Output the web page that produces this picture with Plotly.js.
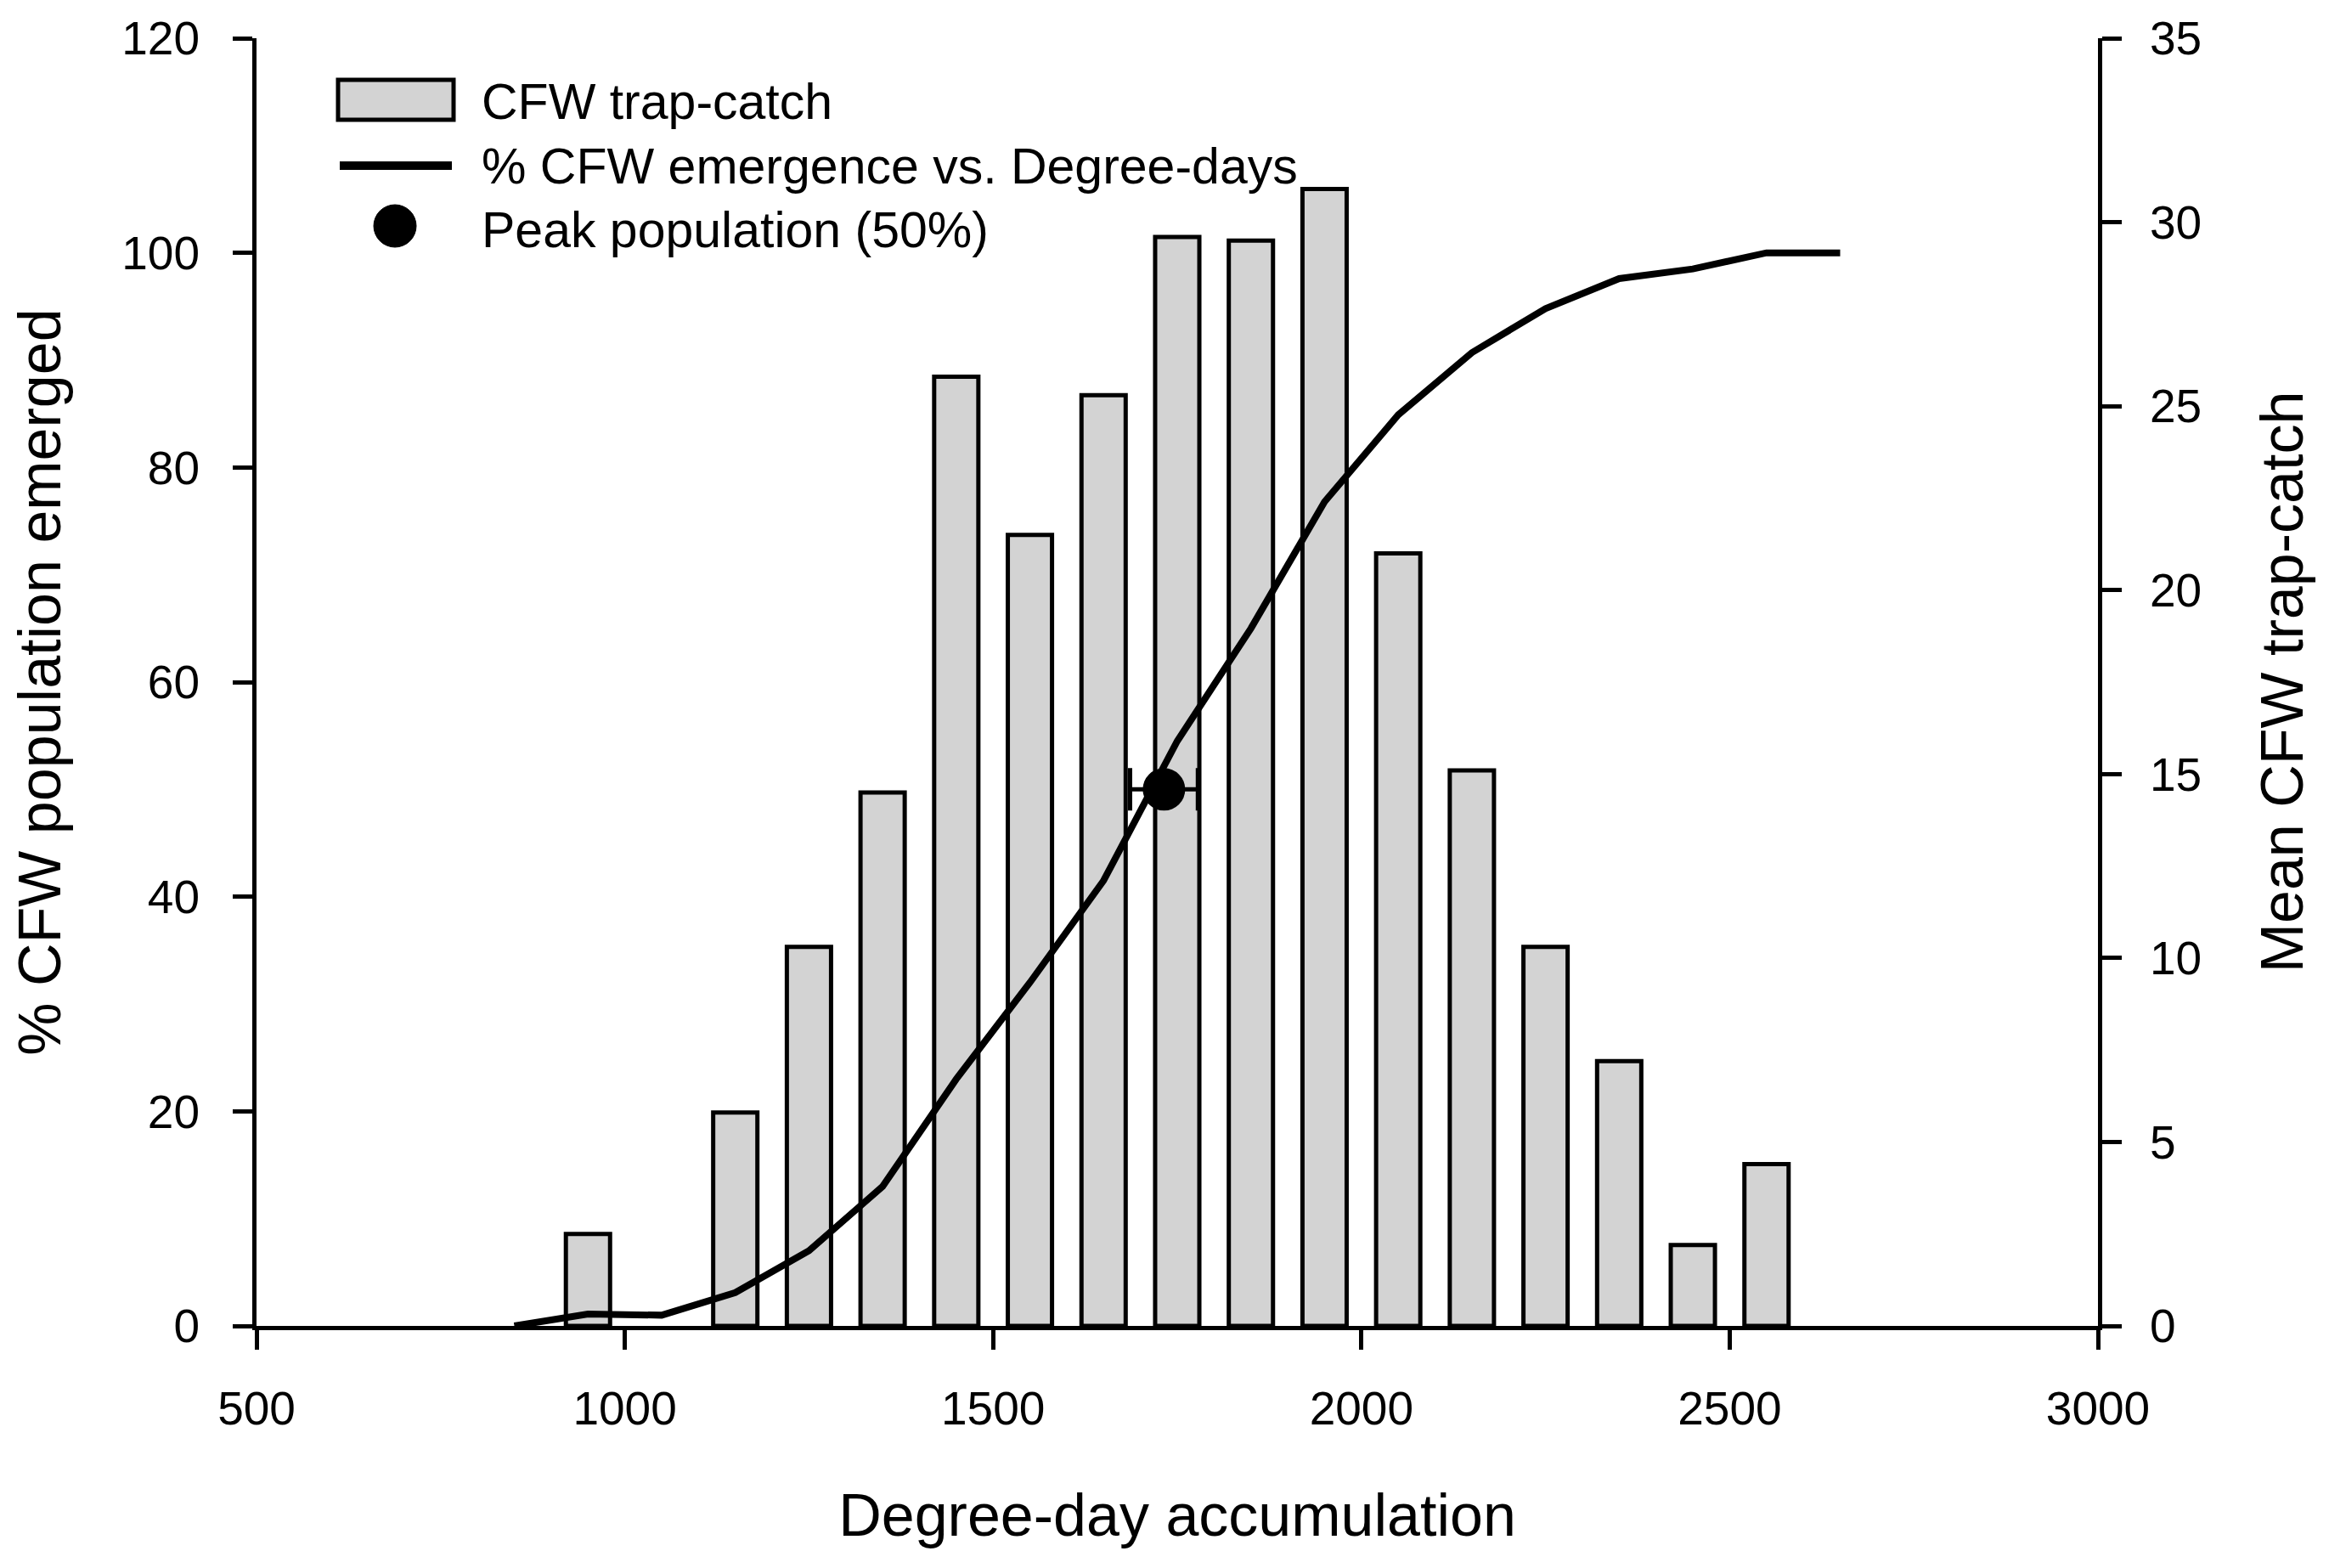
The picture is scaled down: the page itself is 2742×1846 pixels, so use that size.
<!DOCTYPE html>
<html>
<head>
<meta charset="utf-8">
<script src="https://cdn.plot.ly/plotly-3.0.1.min.js"></script>
<style>
  html, body { margin: 0; padding: 0; background: #ffffff; }
  #chart { width: 2742px; height: 1846px; }
</style>
</head>
<body>
<div id="chart"></div>
<script>
// ---- data ----
var barDegreeDays = [950, 1150, 1250, 1350, 1450, 1550, 1650, 1750, 1850, 1950, 2050, 2150, 2250, 2350, 2450, 2550];
var meanTrapCatch = [2.5, 5.8, 10.3, 14.5, 25.8, 21.5, 25.3, 29.6, 29.5, 30.9, 21.0, 15.1, 10.3, 7.2, 2.2, 4.4];

var lineDegreeDays = [850, 950, 1050, 1150, 1250, 1350, 1450, 1550, 1650, 1750, 1850, 1950, 2050, 2150, 2250, 2350, 2450, 2550, 2650];
var pctEmerged = [0, 1.1, 1.0, 3.1, 7.0, 13.0, 23.0, 32.0, 41.5, 54.5, 65.0, 76.8, 84.9, 90.7, 94.8, 97.6, 98.5, 100, 100];

var peakDegreeDays = [1732];
var peakPct = [50];
var peakError = [46];

var xTicks = [500, 1000, 1500, 2000, 2500, 3000];
var leftTicks = [0, 20, 40, 60, 80, 100, 120];
var rightTicks = [0, 5, 10, 15, 20, 25, 30, 35];

var legendLabels = ['CFW trap-catch', '% CFW emergence vs. Degree-days', 'Peak population (50%)'];

// ---- layout geometry (pixels) ----
var W = 2742, H = 1846;
var L = 302, R = 2470, T = 45, B = 1561;
function px(x) { return (x - L) / (R - L); }
function py(y) { return (B - y) / (B - T); }

var FONT = 'Liberation Sans, Arial, Helvetica, sans-serif';

var traces = [
  {
    type: 'bar',
    name: legendLabels[0],
    x: barDegreeDays,
    y: meanTrapCatch,
    width: 60,
    xaxis: 'x',
    yaxis: 'y',
    marker: { color: '#d3d3d3', line: { color: '#000000', width: 5 } },
    hoverinfo: 'x+y'
  },
  {
    type: 'scatter',
    mode: 'lines',
    name: legendLabels[1],
    x: lineDegreeDays,
    y: pctEmerged,
    xaxis: 'x',
    yaxis: 'y2',
    line: { color: '#000000', width: 8 }
  },
  {
    type: 'scatter',
    mode: 'markers',
    name: legendLabels[2],
    x: peakDegreeDays,
    y: peakPct,
    xaxis: 'x',
    yaxis: 'y2',
    marker: { color: '#000000', size: 50 },
    error_x: { type: 'data', array: peakError, visible: true, color: '#000000', thickness: 5, width: 25 }
  }
];

var axisCommon = {
  showgrid: false,
  zeroline: false,
  showline: true,
  linecolor: '#000000',
  linewidth: 5,
  ticks: 'outside',
  tickcolor: '#000000',
  tickwidth: 5,
  ticklen: 23,
  tickfont: { family: FONT, size: 55, color: '#000000' }
};

var layout = {
  width: W,
  height: H,
  paper_bgcolor: '#ffffff',
  plot_bgcolor: '#ffffff',
  showlegend: false,
  bargap: 0,
  margin: { l: L, r: W - R, t: T, b: H - B, pad: 0 },
  font: { family: FONT, color: '#000000' },
  xaxis: Object.assign({}, axisCommon, {
    range: [500, 3000],
    tickvals: xTicks,
    ticktext: xTicks.map(String),
    ticklabelstandoff: 22,
    title: { text: 'Degree-day accumulation', font: { family: FONT, size: 70, color: '#000000' }, standoff: 72 }
  }),
  yaxis: Object.assign({}, axisCommon, {
    range: [0, 35],
    side: 'right',
    tickvals: rightTicks,
    ticktext: rightTicks.map(String),
    ticklabelstandoff: 22,
    title: { text: 'Mean CFW trap-catch', font: { family: FONT, size: 70, color: '#000000' }, standoff: 72 }
  }),
  yaxis2: Object.assign({}, axisCommon, {
    range: [0, 120],
    side: 'left',
    overlaying: 'y',
    anchor: 'x',
    tickvals: leftTicks,
    ticktext: leftTicks.map(String),
    ticklabelstandoff: 28,
    title: { text: '% CFW population emerged', font: { family: FONT, size: 70, color: '#000000' }, standoff: 50 }
  }),
  shapes: [
    { type: 'rect', xref: 'paper', yref: 'paper', x0: px(398), x1: px(534), y0: py(141), y1: py(94),
      fillcolor: '#d3d3d3', line: { color: '#000000', width: 5 } },
    { type: 'line', xref: 'paper', yref: 'paper', x0: px(400), x1: px(532), y0: py(195), y1: py(195),
      line: { color: '#000000', width: 10 } },
    { type: 'circle', xref: 'paper', yref: 'paper', x0: px(440), x1: px(490), y0: py(291), y1: py(241),
      fillcolor: '#000000', line: { color: '#000000', width: 1 } }
  ],
  annotations: [
    { xref: 'paper', yref: 'paper', x: px(565), y: py(120), xanchor: 'left', yanchor: 'middle', showarrow: false,
      text: legendLabels[0], font: { family: FONT, size: 59, color: '#000000' } },
    { xref: 'paper', yref: 'paper', x: px(565), y: py(196), xanchor: 'left', yanchor: 'middle', showarrow: false,
      text: legendLabels[1], font: { family: FONT, size: 59, color: '#000000' } },
    { xref: 'paper', yref: 'paper', x: px(565), y: py(271), xanchor: 'left', yanchor: 'middle', showarrow: false,
      text: legendLabels[2], font: { family: FONT, size: 59, color: '#000000' } }
  ]
};

Plotly.newPlot('chart', traces, layout, { displayModeBar: false, staticPlot: true });
</script>
</body>
</html>
